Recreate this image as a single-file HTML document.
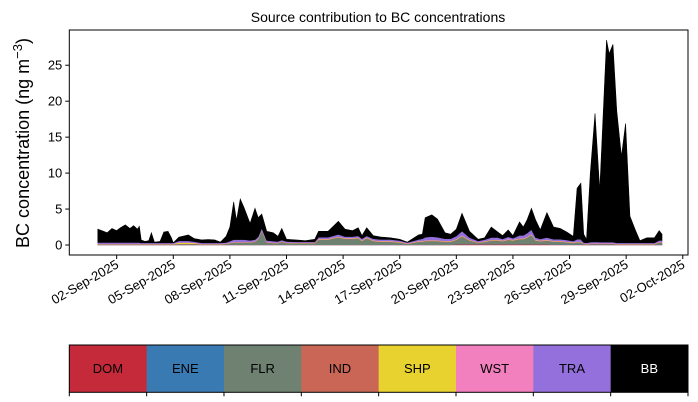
<!DOCTYPE html>
<html><head><meta charset="utf-8">
<style>
html,body{margin:0;padding:0;background:#fff;}
svg{display:block;font-family:"Liberation Sans","DejaVu Sans",sans-serif;}
</style></head>
<body>
<svg id="chart" width="698" height="402" viewBox="0 0 698 402" xmlns="http://www.w3.org/2000/svg">
<text x="378" y="22" font-size="14" text-anchor="middle">Source contribution to BC concentrations</text>
<text transform="translate(29,143) rotate(-90)" font-size="18" text-anchor="middle">BC concentration (ng m<tspan dy="-7" font-size="13">−3</tspan><tspan dy="7">)</tspan></text>
<g id="plot"></g>
<g id="axes"></g>
<g id="legend"></g>
</svg>
<script>
const sources = ["DOM","ENE","FLR","IND","SHP","WST","TRA","BB"];
const sourceColors = ["#c52a3a","#3a7ab3","#6f8272","#c96656","#e8d22f","#f280bf","#9370db","#000000"];
const yTicks = [0,5,10,15,20,25];
const xTickLabels = ["02-Sep-2025","05-Sep-2025","08-Sep-2025","11-Sep-2025","14-Sep-2025","17-Sep-2025","20-Sep-2025","23-Sep-2025","26-Sep-2025","29-Sep-2025","02-Oct-2025"];
const xTickDays = [1,4,7,10,13,16,19,22,25,28,31];
// days since 01-Sep-2025 00:00
const times = [0,0.3,0.5,0.75,1.0,1.2,1.46,1.7,1.9,2.1,2.2,2.3,2.5,2.7,2.84,3.0,3.3,3.5,3.72,3.9,4.0,4.3,4.8,5.1,5.5,5.85,6.2,6.5,6.8,7.0,7.2,7.35,7.55,7.75,8.07,8.33,8.5,8.69,8.95,9.3,9.55,9.75,10.0,10.5,11.0,11.5,11.7,12.2,12.75,13.1,13.5,13.8,14.0,14.25,14.6,15.0,15.5,16.0,16.4,17.0,17.2,17.35,17.7,18.0,18.4,18.7,19.0,19.3,19.7,20.15,20.5,20.85,21.2,21.45,21.75,22.0,22.35,22.55,22.75,22.98,23.2,23.45,23.8,24.15,24.5,24.85,25.2,25.4,25.6,25.75,25.9,26.1,26.35,26.6,26.96,27.1,27.3,27.5,27.75,27.97,28.2,28.5,28.73,29.1,29.5,29.75,29.9];
const totalBC = [2.2,1.9,1.7,2.3,2.0,2.4,2.8,2.3,2.7,2.2,2.6,0.7,0.5,0.6,1.7,0.4,0.5,1.8,1.9,1.0,0.3,1.1,1.4,0.9,0.7,0.75,0.7,0.4,1.2,2.5,6.0,3.4,6.4,5.2,3.0,5.1,3.8,4.3,1.9,1.7,1.2,2.3,0.8,0.7,0.6,0.8,1.9,1.9,3.3,2.2,2.0,2.4,1.3,2.4,1.3,1.1,1.0,0.8,0.4,1.4,1.5,3.8,4.2,3.6,1.7,1.5,2.2,4.4,1.9,0.8,1.0,2.5,1.8,1.3,2.1,1.3,3.2,2.5,3.5,5.1,3.5,2.1,4.5,2.5,2.3,1.8,1.2,7.9,8.6,1.5,0.8,10,18.3,7.6,28.5,26.6,27.9,18.7,12.3,16.9,4.0,2.0,0.6,1.0,1.0,2.0,1.5];
const flr = [.05,.05,.05,.05,.05,.05,.05,.05,.05,.05,.05,.05,.05,.05,.05,.05,.05,.05,.05,.05,.05,.1,.1,.1,.05,.05,.05,.05,.1,.2,.3,.3,.3,.3,.3,.4,.8,2.0,.3,.2,.2,.4,.2,.2,.2,.2,.7,.7,1.0,.8,.8,.9,.5,.9,.5,.4,.4,.3,.1,.4,.4,.5,.5,.5,.4,.4,.6,1.1,.5,.2,.3,.5,.5,.4,.6,.5,.7,.7,.9,1.3,.5,.4,.5,.4,.4,.3,.2,.3,.3,.1,.05,.1,.1,.1,.1,.1,.1,.05,.05,.05,.05,.05,.05,.05,.05,.3,.3];
const tra = [.15,.15,.15,.15,.15,.15,.15,.15,.15,.15,.15,.1,.1,.1,.1,.1,.1,.1,.1,.1,.1,.2,.2,.15,.1,.1,.1,.1,.1,.2,.3,.3,.3,.3,.2,.2,.2,.2,.2,.2,.15,.15,.15,.1,.1,.1,.2,.2,.3,.2,.2,.2,.2,.2,.2,.2,.2,.15,.1,.2,.3,.4,.5,.4,.3,.3,.4,.6,.3,.15,.2,.3,.3,.2,.3,.2,.4,.4,.5,.6,.3,.2,.3,.2,.2,.2,.15,.3,.3,.1,.1,.15,.2,.15,.15,.15,.15,.1,.1,.1,.1,.1,.1,.1,.1,.2,.2];
const dom = [.03,.03,.03,.03,.03,.03,.03,.03,.03,.03,.03,.03,.03,.03,.03,.03,.03,.03,.03,.03,.03,.03,.03,.03,.03,.03,.03,.03,.03,.03,.03,.03,.03,.03,.03,.03,.03,.03,.03,.03,.03,.03,.03,.03,.03,.03,.03,.03,.03,.03,.03,.03,.03,.03,.03,.03,.03,.03,.03,.03,.03,.03,.03,.03,.03,.03,.1,.1,.1,.1,.1,.1,.1,.1,.1,.1,.1,.1,.1,.1,.1,.1,.1,.05,.05,.05,.05,.05,.05,.03,.03,.03,.03,.03,.03,.03,.03,.03,.03,.03,.03,.03,.03,.03,.03,.03,.03];
const ene = [.02,.02,.02,.02,.02,.02,.02,.02,.02,.02,.02,.02,.02,.02,.02,.02,.02,.02,.02,.02,.02,.02,.02,.02,.02,.02,.02,.02,.02,.02,.02,.02,.02,.02,.02,.02,.02,.02,.02,.02,.02,.02,.02,.02,.02,.02,.02,.02,.02,.02,.02,.02,.02,.02,.02,.02,.02,.02,.02,.02,.02,.02,.02,.02,.02,.02,.02,.02,.02,.02,.02,.02,.02,.02,.02,.02,.02,.02,.02,.02,.02,.02,.02,.02,.02,.02,.02,.02,.02,.02,.02,.02,.02,.02,.02,.02,.02,.02,.02,.02,.02,.02,.02,.02,.02,.02,.02];
const ind = [.03,.03,.03,.03,.03,.03,.03,.03,.03,.03,.03,.03,.03,.03,.03,.03,.03,.03,.03,.03,.03,.03,.03,.03,.03,.03,.03,.03,.03,.03,.03,.03,.03,.03,.03,.03,.03,.03,.03,.03,.03,.03,.03,.03,.03,.03,.03,.03,.03,.03,.03,.03,.03,.03,.03,.03,.03,.03,.03,.03,.03,.03,.03,.03,.03,.03,.03,.03,.03,.03,.03,.03,.03,.03,.03,.03,.03,.03,.03,.03,.03,.03,.03,.03,.03,.03,.03,.03,.03,.03,.03,.03,.03,.03,.03,.03,.03,.03,.03,.03,.03,.03,.03,.03,.03,.03,.03];
const shp = [.02,.02,.02,.02,.02,.02,.02,.02,.02,.02,.02,.02,.02,.02,.02,.02,.02,.02,.02,.02,.02,.15,.15,.1,.02,.02,.02,.02,.02,.02,.02,.02,.02,.02,.02,.02,.02,.02,.02,.02,.02,.02,.02,.02,.02,.02,.05,.05,.05,.05,.05,.05,.05,.05,.05,.05,.05,.05,.02,.05,.05,.05,.05,.05,.05,.05,.05,.05,.05,.02,.05,.05,.05,.05,.05,.05,.05,.05,.05,.05,.05,.05,.05,.05,.05,.05,.05,.05,.05,.02,.02,.02,.02,.02,.02,.02,.02,.02,.02,.02,.02,.02,.02,.02,.02,.02,.02];
const wst = [.05,.05,.05,.05,.05,.05,.05,.05,.05,.05,.05,.05,.05,.05,.05,.05,.05,.05,.05,.05,.05,.05,.05,.05,.05,.05,.05,.05,.05,.05,.05,.05,.05,.05,.05,.05,.05,.05,.05,.05,.05,.05,.05,.05,.05,.05,.05,.05,.05,.05,.05,.05,.05,.05,.05,.05,.05,.05,.05,.05,.05,.05,.05,.05,.05,.05,.05,.05,.05,.05,.05,.05,.05,.05,.05,.05,.05,.05,.05,.05,.05,.05,.05,.05,.05,.05,.05,.05,.05,.05,.05,.05,.05,.05,.05,.05,.05,.05,.05,.05,.05,.05,.05,.05,.05,.05,.05];

const NS = "http://www.w3.org/2000/svg";
const plotL = 69.3, plotR = 688, plotT = 30, plotB = 255;
const yMin = -1.39, yMax = 29.9;
const dayPx = 18.87, day0X = 97.8;
function xScale(d){ return day0X + d*dayPx; }
function yScale(v){ return plotB - (v - yMin)/(yMax - yMin)*(plotB - plotT); }

const plot = document.getElementById('plot');
const axes = document.getElementById('axes');
const legend = document.getElementById('legend');

// stacking
const bb = totalBC.map((t,i)=> Math.max(0, t - (dom[i]+ene[i]+flr[i]+ind[i]+shp[i]+wst[i]+tra[i])));
const layers = [dom,ene,flr,ind,shp,wst,tra,bb];
const layerNames = ['area-dom','area-ene','area-flr','area-ind','area-shp','area-wst','area-tra','area-bb'];
let base = times.map(()=>0);
layers.forEach((arr,k)=>{
  const top = base.map((b,i)=>b+arr[i]);
  let d = '';
  times.forEach((t,i)=>{ d += (i?'L':'M') + xScale(t).toFixed(2) + ',' + yScale(top[i]).toFixed(2); });
  for(let i=times.length-1;i>=0;i--){ d += 'L' + xScale(times[i]).toFixed(2) + ',' + yScale(base[i]).toFixed(2); }
  d += 'Z';
  const p = document.createElementNS(NS,'path');
  p.setAttribute('d', d);
  p.setAttribute('fill', sourceColors[k]);
  p.setAttribute('stroke', sourceColors[k]);
  p.setAttribute('stroke-width', '0.6');
  
  
  plot.appendChild(p);
  base = top;
});

// frame
const frame = document.createElementNS(NS,'rect');
frame.setAttribute('x', plotL); frame.setAttribute('y', plotT);
frame.setAttribute('width', plotR-plotL); frame.setAttribute('height', plotB-plotT);
frame.setAttribute('fill','none'); frame.setAttribute('stroke','#000'); frame.setAttribute('stroke-width','1');


axes.appendChild(frame);

yTicks.forEach(v=>{
  const y = yScale(v);
  const l = document.createElementNS(NS,'line');
  l.setAttribute('x1', plotL-4); l.setAttribute('x2', plotL); l.setAttribute('y1', y); l.setAttribute('y2', y);
  l.setAttribute('stroke','#000');
  
  
  axes.appendChild(l);
  const t = document.createElementNS(NS,'text');
  t.setAttribute('x', plotL-7); t.setAttribute('y', y+4.5);
  t.setAttribute('font-size','13'); t.setAttribute('text-anchor','end');
  t.textContent = v;
  
  
  axes.appendChild(t);
});

xTickDays.forEach((d,i)=>{
  const x = xScale(d);
  const l = document.createElementNS(NS,'line');
  l.setAttribute('x1', x); l.setAttribute('x2', x); l.setAttribute('y1', plotB); l.setAttribute('y2', plotB+4);
  l.setAttribute('stroke','#000');
  
  
  axes.appendChild(l);
  const t = document.createElementNS(NS,'text');
  t.setAttribute('transform', 'translate(' + (x+3) + ',' + (plotB+12) + ') rotate(-30)');
  t.setAttribute('font-size','13'); t.setAttribute('text-anchor','end');
  t.textContent = xTickLabels[i];
  
  
  axes.appendChild(t);
});

// colorbar legend
const cbL = 69.3, cbR = 688, cbT = 345, cbB = 392.3;
const segW = (cbR-cbL)/sources.length;
sources.forEach((s,i)=>{
  const r = document.createElementNS(NS,'rect');
  r.setAttribute('x', cbL+i*segW); r.setAttribute('y', cbT);
  r.setAttribute('width', segW+0.5); r.setAttribute('height', cbB-cbT);
  r.setAttribute('fill', sourceColors[i]);
  
  
  legend.appendChild(r);
  const t = document.createElementNS(NS,'text');
  t.setAttribute('x', cbL+(i+0.5)*segW); t.setAttribute('y', (cbT+cbB)/2+4.5);
  t.setAttribute('font-size','13'); t.setAttribute('text-anchor','middle');
  t.setAttribute('fill', s==='BB' ? '#fff' : '#000');
  t.textContent = s;
  
  
  legend.appendChild(t);
});
for(let i=0;i<=sources.length;i++){
  const x = cbL+i*segW;
  const l = document.createElementNS(NS,'line');
  l.setAttribute('x1', x); l.setAttribute('x2', x); l.setAttribute('y1', cbB); l.setAttribute('y2', cbB+4);
  l.setAttribute('stroke','#000');
  
  
  legend.appendChild(l);
}
const cbFrame = document.createElementNS(NS,'rect');
cbFrame.setAttribute('x', cbL); cbFrame.setAttribute('y', cbT);
cbFrame.setAttribute('width', cbR-cbL); cbFrame.setAttribute('height', cbB-cbT);
cbFrame.setAttribute('fill','none'); cbFrame.setAttribute('stroke','#000');


legend.appendChild(cbFrame);
</script>
</body></html>
